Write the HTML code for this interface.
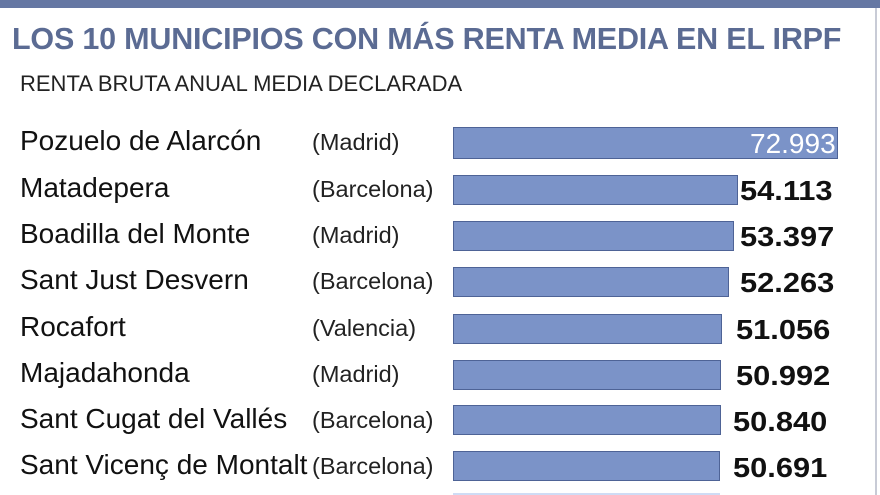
<!DOCTYPE html>
<html><head><meta charset="utf-8"><style>
html,body{margin:0;width:880px;height:495px;overflow:hidden}
body{background:#fff;font-family:"Liberation Sans",sans-serif;position:relative}
.top{position:absolute;left:0;top:0;width:880px;height:8px;background:#6577a3}
.rl{position:absolute;left:875px;top:8px;width:2px;height:487px;background:#c8cbd6}
.t{position:absolute;left:12px;top:22px;font-size:30.5px;font-weight:bold;color:#5b6b93;white-space:nowrap;letter-spacing:-0.2px}
.s{position:absolute;left:20px;top:71px;font-size:22px;color:#222;white-space:nowrap}
.n{position:absolute;left:20px;font-size:28px;color:#111;white-space:nowrap}
.r{position:absolute;left:312px;font-size:23.5px;color:#222;white-space:nowrap}
.b{position:absolute;left:453px;height:30px;background:#7b93c8;border:1.5px solid #4e6396;box-sizing:border-box}
.v{position:absolute;font-size:28px;font-weight:bold;color:#111;white-space:nowrap;transform:scaleX(1.1);transform-origin:left}
</style></head><body>
<div class="top"></div><div class="rl"></div>
<div class="t">LOS 10 MUNICIPIOS CON MÁS RENTA MEDIA EN EL IRPF</div>
<div class="s">RENTA BRUTA ANUAL MEDIA DECLARADA</div>

<div class="n" style="top:125px">Pozuelo de Alarcón</div><div class="r" style="top:129px">(Madrid)</div>
<div class="b" style="top:127px;width:385px;height:32px"></div><div class="v" style="top:128px;left:750px;color:#fff;font-weight:normal;transform:none">72.993</div>

<div class="n" style="top:172px">Matadepera</div><div class="r" style="top:176px">(Barcelona)</div>
<div class="b" style="top:175px;width:285px"></div><div class="v" style="top:175px;left:740px">54.113</div>

<div class="n" style="top:218px">Boadilla del Monte</div><div class="r" style="top:222px">(Madrid)</div>
<div class="b" style="top:221px;width:281px"></div><div class="v" style="top:221px;left:740px">53.397</div>

<div class="n" style="top:264px">Sant Just Desvern</div><div class="r" style="top:268px">(Barcelona)</div>
<div class="b" style="top:267px;width:276px"></div><div class="v" style="top:267px;left:740px">52.263</div>

<div class="n" style="top:311px">Rocafort</div><div class="r" style="top:315px">(Valencia)</div>
<div class="b" style="top:314px;width:269px"></div><div class="v" style="top:314px;left:736px">51.056</div>

<div class="n" style="top:357px">Majadahonda</div><div class="r" style="top:361px">(Madrid)</div>
<div class="b" style="top:360px;width:268px"></div><div class="v" style="top:360px;left:736px">50.992</div>

<div class="n" style="top:403px">Sant Cugat del Vallés</div><div class="r" style="top:407px">(Barcelona)</div>
<div class="b" style="top:405px;width:268px"></div><div class="v" style="top:406px;left:733px">50.840</div>

<div class="n" style="top:449px">Sant Vicenç de Montalt</div><div class="r" style="top:453px">(Barcelona)</div>
<div class="b" style="top:451px;width:267px"></div><div class="v" style="top:452px;left:733px">50.691</div>

<div style="position:absolute;left:453px;top:493px;width:267px;height:2px;background:#cfdcf5"></div>
</body></html>
